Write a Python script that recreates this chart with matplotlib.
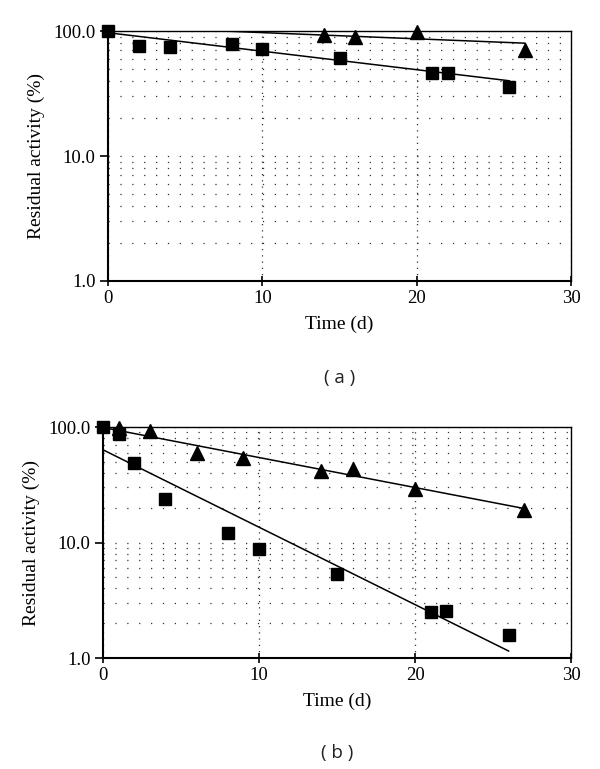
import matplotlib
matplotlib.use("Agg")
import matplotlib.pyplot as plt
import matplotlib.ticker as mticker
import numpy as np

plt.rcParams['font.family'] = ['Liberation Serif', 'DejaVu Serif']

# panel (a)
a_sq_t = [0, 2, 4, 8, 10, 15, 21, 22, 26]
a_sq_act = [100, 75.5, 74, 78.5, 72.5, 61, 46.5, 46.5, 35.5]
a_tri_t = [14, 16, 20, 27]
a_tri_act = [93, 90, 98.5, 70.5]
a_fit_sq_t = [0, 26]
a_fit_sq_act = [97, 40]
a_fit_tri_t = [0, 27]
a_fit_tri_act = [109, 80]

# panel (b)
b_sq_t = [0, 1, 2, 4, 8, 10, 15, 21, 22, 26]
b_sq_act = [100, 87.5, 49, 24, 12.1, 8.85, 5.35, 2.5, 2.57, 1.57]
b_tri_t = [1, 3, 6, 9, 14, 16, 20, 27]
b_tri_act = [99, 92, 60, 53.5, 41.7, 43, 29, 19.3]
b_fit_sq_t = [0, 26]
b_fit_sq_act = [63.5, 1.15]
b_fit_tri_t = [0, 27]
b_fit_tri_act = [99, 19.7]

yticks = [1, 10, 100]
ytick_labels = ["1.0", "10.0", "100.0"]
xticks = [0, 10, 20, 30]

fig = plt.figure(figsize=(6, 7.69), dpi=100)
ax_a = fig.add_axes([0.18, 0.6346, 0.772, 0.325])
ax_b = fig.add_axes([0.1717, 0.1443, 0.78, 0.3004])


def style_axes(ax):
    ax.set_yscale('log')
    ax.set_xlim(0, 30)
    ax.set_ylim(1, 100)
    ax.yaxis.set_major_locator(mticker.FixedLocator(yticks))
    ax.yaxis.set_major_formatter(mticker.FixedFormatter(ytick_labels))
    ax.yaxis.set_minor_locator(mticker.LogLocator(subs=np.arange(2, 10)))
    ax.yaxis.set_minor_formatter(mticker.NullFormatter())
    ax.set_xticks(xticks)
    ax.tick_params(axis='y', which='major', direction='out', length=6, width=1.2,
                   labelsize=13.5, pad=3)
    ax.tick_params(axis='y', which='minor', length=0)
    ax.tick_params(axis='x', direction='inout', length=7, width=1.2, labelsize=13.5, pad=3)
    for s in ['left', 'bottom']:
        ax.spines[s].set_linewidth(1.5)
    for s in ['top', 'right']:
        ax.spines[s].set_linewidth(1.0)
    # dotted grid
    ax.yaxis.grid(True, which='both', color='#333333', linewidth=0.9, linestyle=(0, (1, 8.5)))
    ax.xaxis.grid(True, which='major', color='#333333', linewidth=0.9, linestyle=(0, (1, 4)))
    ax.set_xlabel("Time (d)", fontsize=14, labelpad=6)
    ax.set_ylabel("Residual activity (%)", fontsize=14, labelpad=6)


def draw(ax, sq_t, sq_act, tri_t, tri_act, fsq_t, fsq_act, ftri_t, ftri_act):
    ax.plot(fsq_t, fsq_act, color='black', linewidth=1.1, zorder=3)
    ax.plot(ftri_t, ftri_act, color='black', linewidth=1.1, zorder=3)
    ax.plot(tri_t, tri_act, linestyle='none', marker='^', markersize=10,
            color='black', clip_on=False, zorder=4)
    ax.plot(sq_t, sq_act, linestyle='none', marker='s', markersize=8.4,
            color='black', clip_on=False, zorder=5)


style_axes(ax_a)
style_axes(ax_b)
draw(ax_a, a_sq_t, a_sq_act, a_tri_t, a_tri_act,
     a_fit_sq_t, a_fit_sq_act, a_fit_tri_t, a_fit_tri_act)
draw(ax_b, b_sq_t, b_sq_act, b_tri_t, b_tri_act,
     b_fit_sq_t, b_fit_sq_act, b_fit_tri_t, b_fit_tri_act)

fig.text(0.566, 0.508, "( a )", ha='center', va='center', fontsize=13.5,
         family=['Open Sans', 'DejaVu Sans'], color='#222222')
fig.text(0.562, 0.021, "( b )", ha='center', va='center', fontsize=13.5,
         family=['Open Sans', 'DejaVu Sans'], color='#222222')

fig.savefig("out.png", dpi=100)
